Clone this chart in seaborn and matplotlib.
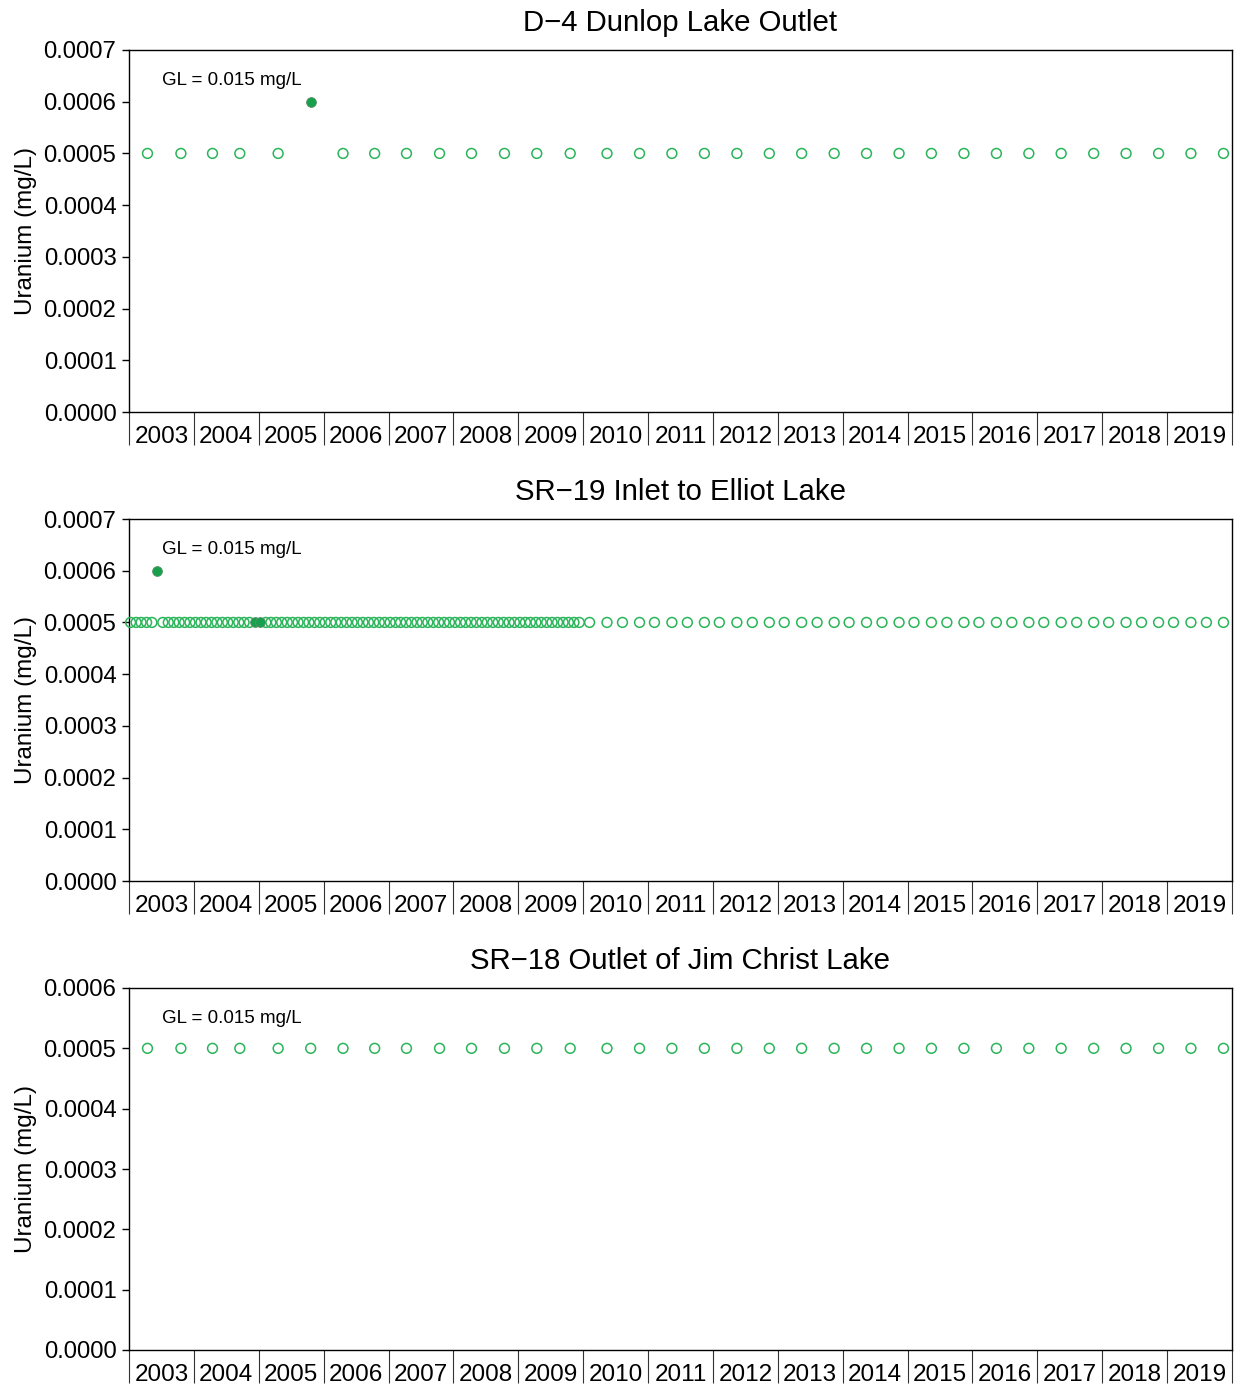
import numpy as np
import pandas as pd
import matplotlib
matplotlib.use("Agg")
import matplotlib.pyplot as plt
import seaborn as sns
from matplotlib.ticker import FormatStrFormatter

sns.set_theme(style="white")
plt.rcParams['font.family'] = ['Liberation Sans', 'DejaVu Sans']

OPEN_GREEN = "#2bb55a"
FILL_GREEN = "#17a04c"

years = list(range(2003, 2020))
year_labels = [str(y) for y in years]

# Semi-annual sampling dates (D-4 and SR-18)
semi_dates = [
    "2003-04-15", "2003-10-20", "2004-04-15", "2004-09-16",
    "2005-04-20", "2005-10-20", "2006-04-20", "2006-10-15",
    "2007-04-12", "2007-10-15", "2008-04-12", "2008-10-15",
    "2009-04-15", "2009-10-20", "2010-05-15", "2010-11-14",
    "2011-05-15", "2011-11-14", "2012-05-15", "2012-11-14",
    "2013-05-15", "2013-11-14", "2014-05-15", "2014-11-14",
    "2015-05-15", "2015-11-14", "2016-05-15", "2016-11-14",
    "2017-05-15", "2017-11-14", "2018-05-15", "2018-11-14",
    "2019-05-15", "2019-11-14",
]

d4_values = [
    0.0005, 0.0005, 0.0005, 0.0005, 0.0005, 0.0006, 0.0005, 0.0005,
    0.0005, 0.0005, 0.0005, 0.0005, 0.0005, 0.0005, 0.0005, 0.0005,
    0.0005, 0.0005, 0.0005, 0.0005, 0.0005, 0.0005, 0.0005, 0.0005,
    0.0005, 0.0005, 0.0005, 0.0005, 0.0005, 0.0005, 0.0005, 0.0005,
    0.0005, 0.0005,
]
d4_detected = ["2005-10-20"]

sr18_values = [
    0.0005, 0.0005, 0.0005, 0.0005, 0.0005, 0.0005, 0.0005, 0.0005,
    0.0005, 0.0005, 0.0005, 0.0005, 0.0005, 0.0005, 0.0005, 0.0005,
    0.0005, 0.0005, 0.0005, 0.0005, 0.0005, 0.0005, 0.0005, 0.0005,
    0.0005, 0.0005, 0.0005, 0.0005, 0.0005, 0.0005, 0.0005, 0.0005,
    0.0005, 0.0005,
]
sr18_detected = []

# SR-19: monthly to 2009, quarterly from 2010
sr19_dates = ([f"{y}-{m:02d}-10" for y in range(2003, 2010) for m in range(1, 13)]
              + [f"{y}-{md}" for y in range(2010, 2020)
                 for md in ("02-06", "05-15", "08-10", "11-14")])

sr19_values = [
    # 2003
    0.0005, 0.0005, 0.0005, 0.0005, 0.0005, 0.0006,
    0.0005, 0.0005, 0.0005, 0.0005, 0.0005, 0.0005,
    # 2004
    0.0005, 0.0005, 0.0005, 0.0005, 0.0005, 0.0005,
    0.0005, 0.0005, 0.0005, 0.0005, 0.0005, 0.0005,
    # 2005
    0.0005, 0.0005, 0.0005, 0.0005, 0.0005, 0.0005,
    0.0005, 0.0005, 0.0005, 0.0005, 0.0005, 0.0005,
    # 2006
    0.0005, 0.0005, 0.0005, 0.0005, 0.0005, 0.0005,
    0.0005, 0.0005, 0.0005, 0.0005, 0.0005, 0.0005,
    # 2007
    0.0005, 0.0005, 0.0005, 0.0005, 0.0005, 0.0005,
    0.0005, 0.0005, 0.0005, 0.0005, 0.0005, 0.0005,
    # 2008
    0.0005, 0.0005, 0.0005, 0.0005, 0.0005, 0.0005,
    0.0005, 0.0005, 0.0005, 0.0005, 0.0005, 0.0005,
    # 2009
    0.0005, 0.0005, 0.0005, 0.0005, 0.0005, 0.0005,
    0.0005, 0.0005, 0.0005, 0.0005, 0.0005, 0.0005,
    # 2010-2019 quarterly
    0.0005, 0.0005, 0.0005, 0.0005, 0.0005, 0.0005, 0.0005, 0.0005,
    0.0005, 0.0005, 0.0005, 0.0005, 0.0005, 0.0005, 0.0005, 0.0005,
    0.0005, 0.0005, 0.0005, 0.0005, 0.0005, 0.0005, 0.0005, 0.0005,
    0.0005, 0.0005, 0.0005, 0.0005, 0.0005, 0.0005, 0.0005, 0.0005,
    0.0005, 0.0005, 0.0005, 0.0005, 0.0005, 0.0005, 0.0005, 0.0005,
]
sr19_detected = ["2003-06-10", "2004-12-10", "2005-01-10"]

panels = [
    ("D\u22124 Dunlop Lake Outlet", semi_dates, d4_values, d4_detected, 0.0007),
    ("SR\u221219 Inlet to Elliot Lake", sr19_dates, sr19_values, sr19_detected, 0.0007),
    ("SR\u221218 Outlet of Jim Christ Lake", semi_dates, sr18_values, sr18_detected, 0.0006),
]


def to_frame(dates, values, detected):
    d = pd.to_datetime(pd.Series(dates))
    days = np.where(d.dt.is_leap_year, 366, 365)
    df = pd.DataFrame({
        "year": d.dt.year + (d.dt.dayofyear - 1) / days,
        "uranium": values,
        "detected": d.isin(pd.to_datetime(detected)),
    })
    return df


fig = plt.figure(figsize=(12.36, 13.86), dpi=100)
left, width, height = 129 / 1236, 1103 / 1236, 362 / 1386
bottoms = [1 - 412 / 1386, 1 - 881 / 1386, 1 - 1350 / 1386]

for (title, dates, values, detected, ymax), bottom in zip(panels, bottoms):
    ax = fig.add_axes([left, bottom, width, height])
    df = to_frame(dates, values, detected)
    nd = df[~df["detected"]]
    dd = df[df["detected"]]
    sns.scatterplot(data=nd, x="year", y="uranium", ax=ax, marker="o", s=50,
                    facecolor="none", edgecolor=OPEN_GREEN, linewidth=1.1,
                    zorder=3, clip_on=False)
    if len(dd):
        sns.scatterplot(data=dd, x="year", y="uranium", ax=ax, marker="o", s=50,
                        color=FILL_GREEN, edgecolor="#5f8f6e", linewidth=0.6,
                        zorder=4, clip_on=False)

    ax.set_xlim(2003, 2020)
    ax.set_ylim(0, ymax)
    ax.set_yticks(np.round(np.arange(0, ymax + 1e-9, 0.0001), 4))
    ax.yaxis.set_major_formatter(FormatStrFormatter('%.4f'))
    ax.set_xticks([y + 0.5 for y in years])
    ax.set_xticklabels(year_labels)
    ax.set_xticks(list(range(2003, 2021)), minor=True)
    ax.tick_params(axis='x', which='major', length=0, pad=10, labelsize=17.5,
                   colors='black')
    ax.tick_params(axis='x', which='minor', bottom=True, length=24, width=0.8,
                   color='#333333', direction='out')
    ax.tick_params(axis='y', left=True, length=5, width=1, direction='out',
                   pad=4, labelsize=17.2, colors='black')
    ax.set_xlabel("")
    ax.set_ylabel("Uranium (mg/L)", fontsize=17.5, labelpad=5, color='black')
    ax.set_title(title, fontsize=21.2, pad=14, color='black')
    ax.text(0.03, 0.917, "GL = 0.015 mg/L", transform=ax.transAxes,
            fontsize=13.5, ha='left', va='center', color='black')
    for s in ax.spines.values():
        s.set_visible(True)
        s.set_color('black')
        s.set_linewidth(1)
    ax.grid(False)

fig.savefig("out.png", dpi=100)
